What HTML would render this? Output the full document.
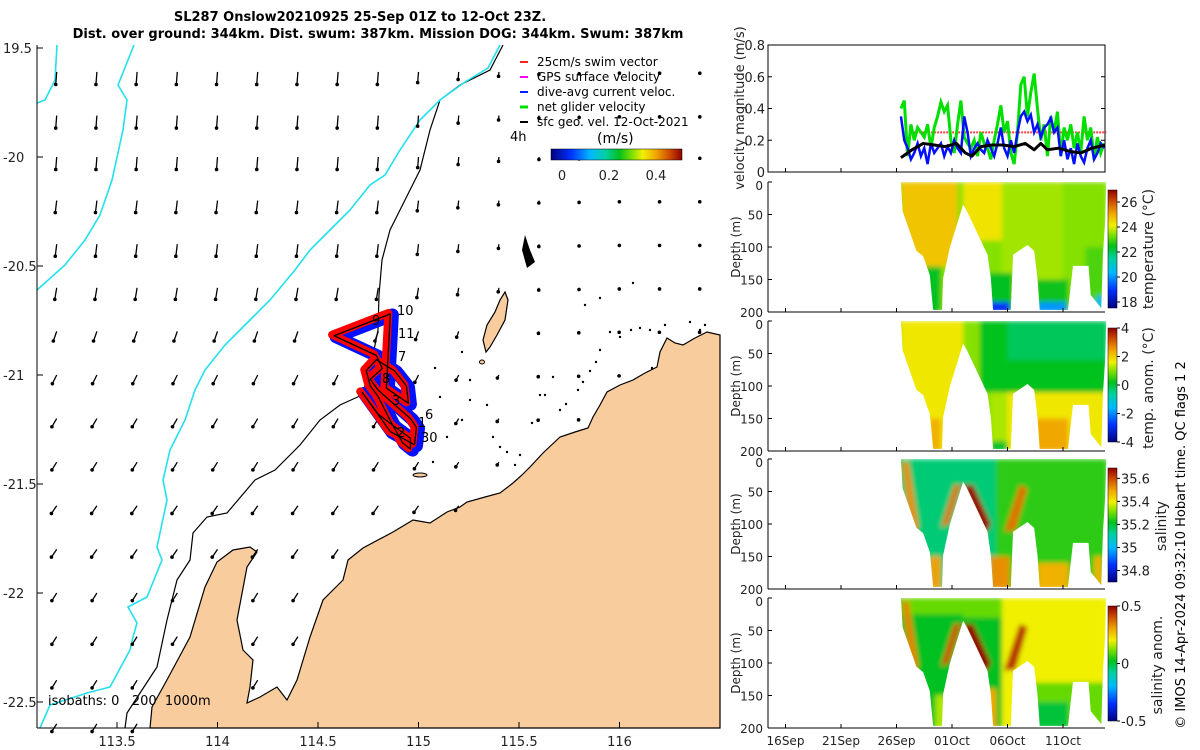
<!DOCTYPE html>
<html><head><meta charset="utf-8">
<style>
html,body{margin:0;padding:0;background:#fff;}
svg{display:block;font-family:"DejaVu Sans","Liberation Sans",sans-serif;}
</style></head>
<body>
<svg id="fig" width="1200" height="750" viewBox="0 0 1200 750" xmlns="http://www.w3.org/2000/svg">
<defs>
<linearGradient id="jetV" x1="0" y1="1" x2="0" y2="0">
<stop offset="0" stop-color="#000080"/><stop offset="0.15" stop-color="#0030ff"/><stop offset="0.3" stop-color="#00b8ff"/><stop offset="0.42" stop-color="#00d0a0"/><stop offset="0.52" stop-color="#00c020"/><stop offset="0.62" stop-color="#80e000"/><stop offset="0.7" stop-color="#f0f000"/><stop offset="0.8" stop-color="#f0a800"/><stop offset="0.9" stop-color="#d05000"/><stop offset="1" stop-color="#900000"/>
</linearGradient>
<linearGradient id="jetH" x1="0" y1="0" x2="1" y2="0">
<stop offset="0" stop-color="#000080"/><stop offset="0.15" stop-color="#0030ff"/><stop offset="0.3" stop-color="#00b8ff"/><stop offset="0.42" stop-color="#00d0a0"/><stop offset="0.52" stop-color="#00c020"/><stop offset="0.62" stop-color="#80e000"/><stop offset="0.7" stop-color="#f0f000"/><stop offset="0.8" stop-color="#f0a800"/><stop offset="0.9" stop-color="#d05000"/><stop offset="1" stop-color="#900000"/>
</linearGradient>
<filter id="soft" x="-5%" y="-5%" width="110%" height="110%"><feGaussianBlur stdDeviation="2.5"/></filter>
</defs>

<text x="360" y="21" text-anchor="middle" font-size="13" font-weight="bold">SL287 Onslow20210925 25-Sep 01Z to 12-Oct 23Z.</text>
<text x="378" y="38" text-anchor="middle" font-size="13" font-weight="bold">Dist. over ground: 344km. Dist. swum: 387km. Mission DOG: 344km. Swum: 387km</text>

<g id="map">
  <path id="land" fill="#f9cc9d" stroke="#000" stroke-width="1.2"
   d="M150,728 L152,707 L168,678 L190,637 L205,587 L217,562 L233,550 L250,547 L257,552 L247,567 L237,620 L243,650 L253,660 L250,687 L247,703 L260,697 L277,687 L287,700 L297,680 L310,637 L323,600 L343,580 L348,560 L363,548 L393,532 L413,520 L430,523 L447,512 L460,507 L467,502 L485,497 L500,493 L513,483 L522,475 L530,467 L543,453 L560,437 L575,432 L588,428 L593,417 L600,405 L607,392 L620,385 L633,380 L645,373 L657,367 L660,352 L667,338 L675,343 L683,345 L695,338 L707,332 L720,335 L720,728 Z"/>
  <path id="island" fill="#f9cc9d" stroke="#000" stroke-width="1.2"
   d="M505,292 L508,300 L505,320 L497,335 L490,347 L486,352 L483,340 L487,325 L495,312 L500,300 Z"/>
  <ellipse cx="420" cy="475" rx="7" ry="2" fill="#f9cc9d" stroke="#000"/>
  <ellipse cx="482" cy="362" rx="2.5" ry="2" fill="#f9cc9d" stroke="#000"/>
  <path d="M525,235 L530,250 L535,262 L527,268 L522,250 Z" fill="#000"/>
  <g id="dots" fill="#000"></g>
  <polyline fill="none" stroke="#000" stroke-width="1.2"
   points="503,45 490,70 460,85 440,100 430,130 420,170 405,200 390,230 382,260 379,295 378,330 370,370 362,395 340,405 320,420 300,445 275,470 255,480 227,513 207,517 193,533 190,560 177,580 167,620 157,667 127,713 125,728"/>
  <polyline fill="none" stroke="#22e0ee" stroke-width="1.6"
   points="500,45 488,68 465,82 440,100 420,120 400,150 385,175 370,185 350,210 330,230 310,250 295,270 270,300 250,320 225,345 205,370 195,390 185,420 170,450 163,480 167,500 157,547 162,560 147,597 128,607 137,623 133,637 130,650 110,687 87,693 50,705 40,728"/>
  <polyline fill="none" stroke="#22e0ee" stroke-width="1.6"
   points="134,45 118,85 127,100 123,130 112,180 100,215 85,240 65,265 37,290"/>
  <polyline fill="none" stroke="#22e0ee" stroke-width="1.6"
   points="57,45 55,80 45,100 37,103"/>
  <g id="arrows"></g>
  <g fill="none" stroke-linejoin="round" stroke-linecap="round">
    <polyline id="trkB" stroke="#0010ff" stroke-width="13" transform="translate(2,1)"/>
    <polyline id="trkR" stroke="#ff0000" stroke-width="8" transform="translate(-2,-1)"/>
    <polyline id="trkK" stroke="#000" stroke-width="1.3"/>
  </g>
  <g font-size="13">
    <text x="397" y="315">10</text><text x="372" y="325">9</text><text x="398" y="338">11</text>
    <text x="398" y="361">7</text><text x="382" y="383">8</text><text x="392" y="405">3</text>
    <text x="425" y="419">6</text><text x="418" y="427">1</text><text x="421" y="442">30</text><text x="397" y="437">2</text>
  </g>
  <line x1="37" y1="45" x2="37" y2="728" stroke="#000"/>
  <line x1="37" y1="728" x2="720" y2="728" stroke="#000"/>
  <g id="mapTicks" font-size="13" fill="#222"></g>
  <text x="48" y="705" font-size="13" style="white-space:pre" xml:space="preserve">isobaths: 0   200  1000m</text>
  <g font-size="12">
    <line x1="520" y1="62" x2="528" y2="62" stroke="#ff2020" stroke-width="2"/><text x="537" y="66">25cm/s swim vector</text>
    <line x1="520" y1="77" x2="528" y2="77" stroke="#ff00ff" stroke-width="2"/><text x="537" y="81">GPS surface velocity</text>
    <line x1="520" y1="92" x2="528" y2="92" stroke="#0020ff" stroke-width="2"/><text x="537" y="96">dive-avg current veloc.</text>
    <line x1="520" y1="107" x2="528" y2="107" stroke="#00e000" stroke-width="3"/><text x="537" y="111">net glider velocity</text>
    <line x1="520" y1="122" x2="528" y2="122" stroke="#000" stroke-width="2"/><text x="537" y="126">sfc geo. vel. 12-Oct-2021</text>
  </g>
  <text x="510" y="141" font-size="13">4h</text>
  <text x="597" y="143" font-size="14">(m/s)</text>
  <rect x="551" y="149" width="131" height="11" fill="url(#jetH)" stroke="#000" stroke-width="0.5"/>
  <g font-size="13" fill="#222" text-anchor="middle">
    <text x="562" y="180">0</text><text x="609" y="180">0.2</text><text x="656" y="180">0.4</text>
  </g>
</g>

<g id="right"></g>
<text transform="translate(1185,545) rotate(-90)" text-anchor="middle" font-size="13">© IMOS 14-Apr-2024 09:32:10 Hobart time. QC flags 1  2</text>
</svg>

<script>
// ---------- MAP DATA ----------
const arrowRowLat = [-19.61,-19.81,-20.0,-20.2,-20.4,-20.6,-20.8,-21.0,-21.2,-21.4,-21.6,-21.8,-22.0,-22.2,-22.4,-22.6];
const arrowColLon = [113.2,113.4,113.6,113.8,114.0,114.2,114.4,114.6,114.8,115.0,115.2,115.4,115.6,115.8,116.0,116.2,116.4];
const arrowRowU = [-0.02,-0.02,-0.02,-0.03,-0.03,-0.04,-0.07,-0.09,-0.10,-0.10,-0.11,-0.11,-0.10,-0.10,-0.10,-0.10];
const arrowRowV = [-0.26,-0.26,-0.26,-0.25,-0.25,-0.24,-0.20,-0.18,-0.17,-0.16,-0.16,-0.16,-0.16,-0.16,-0.16,-0.16];
const arrowColFactor = [1,1,1,1,1,1,1,1,1,0.85,0.6,0.35,0.2,0.15,0.1,0.1,0.1];
const trackLon = [114.86,114.58,114.79,114.82,114.76,114.80,114.96,114.99,114.98,114.86,114.72,114.80,114.90,114.96,114.96,114.92,114.86,114.80,114.76,114.74,114.79,114.88,114.94,114.95,114.84,114.86];
const trackLat = [-20.72,-20.82,-20.91,-20.97,-21.02,-21.07,-21.20,-21.24,-21.32,-21.26,-21.08,-21.18,-21.25,-21.29,-21.34,-21.31,-21.21,-21.10,-21.05,-20.98,-20.93,-20.98,-21.05,-21.13,-21.06,-20.72];
const mapLonTicks = [113.5,114,114.5,115,115.5,116];
const mapLatTicks = [-19.5,-20,-20.5,-21,-21.5,-22,-22.5];
const reefPxX = [435,440,462,470,487,493,500,507,515,520,532,540,545,553,560,566,578,583,590,596,600,610,620,631,640,650,665,690,700,705,462,447,433,470,633,652,600,585];
const reefPxY = [368,397,352,380,405,437,447,452,465,455,423,395,395,377,410,404,390,382,371,362,350,332,337,330,328,330,325,322,330,325,420,437,462,400,283,368,298,305];

const lonX = lon => 117 + (lon - 113.5) * 201;
const latY = lat => 157 + (-20 - lat) * 218;
const NS = 'http://www.w3.org/2000/svg';
function mk(tag, attrs, parent){const e=document.createElementNS(NS,tag);for(const k in attrs)e.setAttribute(k,attrs[k]);if(parent)parent.appendChild(e);return e;}

const mt = document.getElementById('mapTicks');
mapLonTicks.forEach(lon=>{
  const x=lonX(lon);
  const t=mk('line',{x1:x,y1:728,x2:x,y2:722,stroke:'#000'},mt);
  
  
  const l=mk('text',{x:x,y:746,'text-anchor':'middle'},mt); l.textContent=String(lon);
  
  
});
mapLatTicks.forEach(lat=>{
  const y=latY(lat);
  const t=mk('line',{x1:37,y1:y,x2:43,y2:y,stroke:'#000'},mt);
  
  
  const l=mk('text',{x:3,y:y+5},mt); l.textContent = lat===-19.5 ? '19.5' : String(lat);
  
  
});

const dots=document.getElementById('dots');
reefPxX.forEach((x,i)=>{
  const d=mk('circle',{cx:x,cy:reefPxY[i],r:1.2},dots);
  
  
});

const land=document.getElementById('land'), isl=document.getElementById('island');
const ag=document.getElementById('arrows');
const SCALE=48;
arrowRowLat.forEach((lat,r)=>{
  arrowColLon.forEach((lon,c)=>{
    const x=lonX(lon), y=latY(lat);
    let inside=false;
    try{ const p=new DOMPoint(x,y); inside = land.isPointInFill(p)||isl.isPointInFill(p);}catch(e){}
    if(inside) return;
    const f=arrowColFactor[c];
    const dx=arrowRowU[r]*SCALE*f, dy=-arrowRowV[r]*SCALE*f;
    const g=mk('g',{},ag);
    
    
    mk('line',{x1:x,y1:y,x2:x+dx,y2:y+dy,stroke:'#000','stroke-width':1.3},g);
    mk('circle',{cx:x+dx,cy:y+dy,r:1.8},g);
  });
});

const tp = trackLon.map((lon,i)=>lonX(lon)+','+latY(trackLat[i])).join(' ');
['trkB','trkR','trkK'].forEach(id=>document.getElementById(id).setAttribute('points',tp));

// ---------- RIGHT PANEL DATA ----------
const dateTickDays = [-15,-10,-5,0,5,10];
const dateTickLabels = ['16Sep','21Sep','26Sep','01Oct','06Oct','11Oct'];
const velStartDay = -4.6, velStep = 0.3;
const netGliderVel = [0.40,0.45,0.10,0.30,0.20,0.28,0.25,0.22,0.30,0.15,0.28,0.35,0.44,0.38,0.42,0.20,0.12,0.30,0.45,0.22,0.18,0.15,0.20,0.10,0.25,0.18,0.15,0.08,0.20,0.30,0.42,0.25,0.32,0.12,0.05,0.25,0.55,0.60,0.35,0.50,0.62,0.40,0.20,0.30,0.10,0.35,0.25,0.38,0.10,0.28,0.20,0.30,0.15,0.25,0.12,0.35,0.20,0.28,0.08,0.22,0.12,0.18];
const diveAvgVel = [0.35,0.20,0.15,0.08,0.12,0.18,0.10,0.15,0.05,0.18,0.12,0.15,0.18,0.10,0.16,0.12,0.20,0.15,0.12,0.35,0.25,0.10,0.15,0.18,0.14,0.12,0.20,0.15,0.10,0.18,0.28,0.15,0.10,0.20,0.12,0.25,0.35,0.38,0.32,0.36,0.25,0.30,0.22,0.28,0.30,0.34,0.25,0.28,0.10,0.20,0.08,0.15,0.05,0.18,0.10,0.06,0.15,0.20,0.08,0.12,0.18,0.15];
const geoVelDays = [-4.6,-3.6,-2.6,-1.6,-0.6,0.4,1.2,1.8,2.6,3.6,4.6,5.6,6.6,7.4,8.0,8.6,9.6,10.6,11.6,12.6,13.8];
const geoVel = [0.09,0.14,0.18,0.17,0.16,0.18,0.12,0.10,0.16,0.17,0.17,0.16,0.18,0.14,0.18,0.14,0.15,0.13,0.12,0.15,0.17];
const swimVecDays = [-3.5,13.9];
const swimVecMag = [0.25,0.25];
const velTicks = [0,0.2,0.4,0.6,0.8];
const depthTicks = [0,50,100,150,200];
const maskDays = [-4.6,13.9,13.8,13.6,13.45,12.5,12.3,10.9,10.45,7.9,7.7,7.4,6.8,5.5,5.3,3.7,3.5,3.2,1.35,1.0,-0.2,-0.8,-0.9,-1.7,-2.0,-2.6,-3.2,-4.45];
const maskDepth = [0,0,60,112,194,174,129,129,197,197,148,106,97,112,197,197,148,112,45,35,101,148,197,197,143,114,106,45];
const tempBlocks = [[-5,14,0,200,23.4],[-4.6,0.5,0,130,24.7],[1,4.5,0,90,24.3],[4.5,10,0,200,23.6],[10,14,0,200,23.4],[-3,-1,130,200,22.4],[3,5.5,140,200,22.4],[3.2,5.2,185,200,18.9],[7.5,10.5,150,200,22.5],[7.8,10.3,185,200,20.0],[12,13.8,100,200,23.0],[13,13.6,175,200,20.5]];
const anomBlocks = [[-5,14,0,200,1.2],[-4.6,1,0,200,1.7],[1,3.5,0,200,1.0],[2.5,14,0,110,0.2],[5,14,0,60,-0.2],[5,14,110,200,1.7],[7.5,10.5,150,200,2.4],[-2,-1,150,200,2.3],[3.5,5,185,200,0.1]];
const salBlocks = [[-5,14,0,200,35.22],[-4.6,4,0,200,35.15],[4,14,0,200,35.25],[-2,-1,150,200,35.5],[3.4,5.2,150,200,35.52],[7.7,10.5,160,200,35.48],[12.8,13.5,150,200,35.48]];
const salAnomBlocks = [[-5,14,0,200,0.02],[4.5,14,0,200,0.2],[6,14,130,200,0.1],[7.5,10.5,160,200,0.0],[-4.6,1,0,25,0.1],[1,4.5,0,30,0.1],[-1.5,-0.5,150,200,0.15],[3.2,4.0,140,200,0.3]];
const streakDays = [[-4.5,-3.9,-3.0,-3.7],[-1.0,-0.3,0.8,0.2],[0.9,1.9,3.5,2.9],[4.7,5.7,6.8,6.1]];
const streakDepth = [[5,5,105,115],[105,100,40,40],[40,40,100,118],[112,110,45,40]];
const streakSal = [35.52,35.55,35.68,35.55];
const streakSalAnom = [0.34,0.4,0.5,0.44];

const tx = d => 952 + d*11.1;
const X0=768, X1=1105;

function jet(t){
  t=Math.max(0,Math.min(1,t));
  const s=[[0,[0,0,128]],[0.15,[0,48,255]],[0.3,[0,184,255]],[0.42,[0,208,160]],[0.52,[0,192,32]],[0.62,[128,224,0]],[0.7,[240,240,0]],[0.8,[240,168,0]],[0.9,[208,80,0]],[1,[144,0,0]]];
  for(let i=1;i<s.length;i++){ if(t<=s[i][0]){const a=s[i-1],b=s[i],f=(t-a[0])/(b[0]-a[0]);return 'rgb('+a[1].map((v,k)=>Math.round(v+(b[1][k]-v)*f)).join(',')+')';}}
  return 'rgb(144,0,0)';
}

const R=document.getElementById('right');
function txt(parent,x,y,s,attrs,name){const t=mk('text',Object.assign({x:x,y:y,'font-size':13,fill:'#222'},attrs||{}),parent);t.textContent=s;return t;}

(function(){
  const g=mk('g',{},R);
  
  
  const vy=v=>172 - v*158.75;
  mk('rect',{x:X0,y:45,width:X1-X0,height:127,fill:'none',stroke:'#000'},g);
  velTicks.forEach(v=>{
    mk('line',{x1:X0,y1:vy(v),x2:X0+4,y2:vy(v),stroke:'#000'},g);
    mk('line',{x1:X1,y1:vy(v),x2:X1-4,y2:vy(v),stroke:'#000'},g);
    txt(g,X0-3,vy(v)+5,String(v),{'text-anchor':'end'},'velocity-y-tick-label');
  });
  dateTickDays.forEach(d=>{mk('line',{x1:tx(d),y1:172,x2:tx(d),y2:168,stroke:'#000'},g);});
  txt(g,0,0,'velocity magnitude (m/s)',{transform:'translate(744,108) rotate(-90)','text-anchor':'middle'},'velocity-y-axis-title');
  const sw=mk('polyline',{points:swimVecDays.map((d,i)=>tx(d)+','+vy(swimVecMag[i])).join(' '),fill:'none',stroke:'#ff4040','stroke-width':2,'stroke-dasharray':'2,1'},g);
  
  
  const gr=mk('polyline',{points:netGliderVel.map((v,i)=>tx(velStartDay+i*velStep)+','+vy(v)).join(' '),fill:'none',stroke:'#00e000','stroke-width':3},g);
  
  
  const bl=mk('polyline',{points:diveAvgVel.map((v,i)=>tx(velStartDay+i*velStep)+','+vy(v)).join(' '),fill:'none',stroke:'#0010ff','stroke-width':2.5},g);
  
  
  const bk=mk('polyline',{points:geoVelDays.map((d,i)=>tx(d)+','+vy(geoVel[i])).join(' '),fill:'none',stroke:'#000','stroke-width':3,'stroke-linejoin':'round'},g);
  
  
})();

const panels=[
  {top:182,blocks:tempBlocks,lo:17.52,hi:26.96,cb:[190,308],ticks:[26,24,22,20,18],label:'temperature (°C)',lx:1153,name:'temperature'},
  {top:321,blocks:anomBlocks,lo:-4,hi:4,cb:[328,442],ticks:[4,2,0,-2,-4],label:'temp. anom. (°C)',lx:1153,name:'temp-anomaly'},
  {top:459,blocks:salBlocks,lo:34.7,hi:35.69,cb:[468,582],ticks:[35.6,35.4,35.2,35,34.8],label:'salinity',lx:1166,name:'salinity',streak:streakSal},
  {top:598,blocks:salAnomBlocks,lo:-0.5,hi:0.5,cb:[606,721],ticks:[0.5,0,-0.5],label:'salinity anom.',lx:1162,name:'salinity-anomaly',streak:streakSalAnom}
];
panels.forEach((P,pi)=>{
  const dy=d=>P.top + d*0.65;
  const g=mk('g',{},R);
  
  
  const cp=mk('clipPath',{id:'clip'+pi},g);
  mk('polygon',{points:maskDays.map((d,i)=>tx(d)+','+dy(maskDepth[i])).join(' ')},cp);
  const outer=mk('g',{'clip-path':'url(#clip'+pi+')'},g);
  const inner=mk('g',{filter:'url(#soft)'},outer);
  const norm=v=>(v-P.lo)/(P.hi-P.lo);
  P.blocks.forEach(b=>{
    const r=mk('rect',{x:tx(b[0]),y:dy(b[2]),width:tx(b[1])-tx(b[0]),height:dy(b[3])-dy(b[2]),fill:jet(norm(b[4]))},inner);
    
    
  });
  if(P.streak){
    streakDays.forEach((ds,si)=>{
      const p=mk('polygon',{points:ds.map((d,k)=>tx(d)+','+dy(streakDepth[si][k])).join(' '),fill:jet(norm(P.streak[si]))},inner);
      
      
    });
  }
  mk('line',{x1:X0,y1:P.top,x2:X0,y2:P.top+130,stroke:'#000'},g);
  mk('line',{x1:X0,y1:P.top+130,x2:X1,y2:P.top+130,stroke:'#000'},g);
  depthTicks.forEach(d=>{
    mk('line',{x1:X0,y1:dy(d),x2:X0+4,y2:dy(d),stroke:'#000'},g);
    txt(g,X0-5,dy(d)+(d===0?8:5),String(d),{'text-anchor':'end','font-size':12},'depth-tick-label');
  });
  dateTickDays.forEach(d=>{mk('line',{x1:tx(d),y1:P.top+130,x2:tx(d),y2:P.top+126,stroke:'#000'},g);});
  txt(g,0,0,'Depth (m)',{transform:'translate(740,'+(P.top+65)+') rotate(-90)','text-anchor':'middle','font-size':12},'depth-axis-title');
  const cbr=mk('rect',{x:1108,y:P.cb[0],width:9,height:P.cb[1]-P.cb[0],fill:'url(#jetV)',stroke:'#000','stroke-width':0.5},g);
  
  
  P.ticks.forEach(v=>{
    const y=P.cb[1]-(v-P.lo)/(P.hi-P.lo)*(P.cb[1]-P.cb[0]);
    mk('line',{x1:1117,y1:y,x2:1120,y2:y,stroke:'#000'},g);
    txt(g,1121,y+5,String(v),{},'colorbar-tick-label');
  });
  txt(g,0,0,P.label,{transform:'translate('+P.lx+','+(P.top+67)+') rotate(-90)','text-anchor':'middle','font-size':14},P.name+'-colorbar-title');
});
dateTickDays.forEach((d,i)=>{ txt(R,tx(d),745,dateTickLabels[i],{'text-anchor':'middle','font-size':12},'date-tick-label'); });
</script>
</body></html>
